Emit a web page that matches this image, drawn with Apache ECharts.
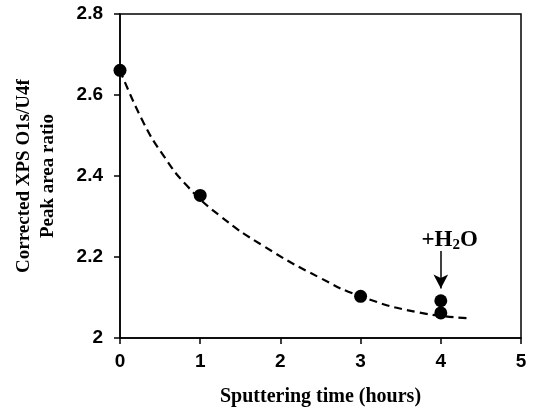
<!DOCTYPE html>
<html>
<head>
<meta charset="utf-8">
<script src="https://cdn.jsdelivr.net/npm/echarts@6/dist/echarts.min.js"></script>
<style>html,body{margin:0;padding:0;background:#fff}#c{width:536px;height:412px}</style>
</head>
<body>
<div id="c"></div>
<script>
// Measured points
const pointX = [0, 1, 3, 4, 4];
const pointY = [2.661, 2.352, 2.103, 2.092, 2.062];
// Dashed fit curve
const curveX = [0, 0.29, 0.54, 0.83, 1.25, 1.79, 2.49, 3.0, 3.70, 4.34];
const curveY = [2.661, 2.533, 2.451, 2.377, 2.301, 2.227, 2.149, 2.103, 2.064, 2.049];
// Annotation
const noteX = 4;
const arrowFromY = 2.215;
const arrowToY = 2.122;
const noteTextY = 2.243;
const xTicks = [0, 1, 2, 3, 4, 5];
const yTicks = ['2', '2.2', '2.4', '2.6', '2.8'];

const chart = echarts.init(document.getElementById('c'));
const lblFont = {fontFamily: 'Liberation Sans', fontWeight: 'bold', fontSize: 19, color: '#000'};
const titleFont = {fontFamily: 'Liberation Serif', fontWeight: 'bold', fontSize: 20, color: '#000'};
chart.setOption({
  animation: false,
  grid: {left: 120, right: 15, top: 14, bottom: 71, show: true, borderColor: '#000', borderWidth: 1.5},
  xAxis: {
    type: 'value', min: 0, max: 5, interval: 1,
    axisLine: {lineStyle: {color: '#000', width: 1.5}},
    axisTick: {show: true, length: 6, lineStyle: {color: '#000', width: 1.5}},
    splitLine: {show: false},
    axisLabel: Object.assign({margin: 14, formatter: v => String(xTicks[Math.round(v)])}, lblFont),
    name: 'Sputtering time (hours)', nameLocation: 'middle', nameGap: 49,
    nameTextStyle: titleFont
  },
  yAxis: {
    type: 'value', min: 2, max: 2.8, interval: 0.2,
    axisLine: {show: true, lineStyle: {color: '#000', width: 1.5}},
    axisTick: {show: true, length: 6, lineStyle: {color: '#000', width: 1.5}},
    splitLine: {show: false},
    axisLabel: Object.assign({margin: 17, formatter: v => yTicks[Math.round((v - 2) / 0.2)]}, lblFont),
    name: 'Corrected XPS O1s/U4f\nPeak area ratio', nameLocation: 'middle', nameGap: 60,
    nameTextStyle: Object.assign({}, titleFont, {fontSize: 19, lineHeight: 24})
  },
  series: [
    {
      type: 'line', smooth: true, symbol: 'none',
      data: curveX.map((x, i) => [x, curveY[i]]),
      lineStyle: {color: '#000', width: 2.2, type: [8, 5]},
      z: 2
    },
    {
      type: 'scatter', symbol: 'circle', symbolSize: 13,
      data: pointX.map((x, i) => [x, pointY[i]]),
      itemStyle: {color: '#000', opacity: 1},
      z: 3,
      markLine: {
        silent: true, symbol: ['none', 'arrow'], symbolSize: [11, 14],
        lineStyle: {color: '#000', width: 1.5, type: 'solid'},
        label: {show: false},
        data: [[{coord: [noteX, arrowFromY]}, {coord: [noteX, arrowToY]}]]
      },
      markPoint: {
        symbol: 'circle', symbolSize: 1, itemStyle: {color: 'rgba(0,0,0,0)'},
        label: {
          show: true, position: 'inside', formatter: '{a|+H}{b|2}{a|O}',
          rich: {
            a: {fontFamily: 'Liberation Serif', fontWeight: 'bold', fontSize: 23, color: '#000'},
            b: {fontFamily: 'Liberation Serif', fontWeight: 'bold', fontSize: 15, color: '#000', padding: [11, 0, 0, 0]}
          }
        },
        data: [{coord: [noteX + 0.11, noteTextY]}]
      }
    }
  ]
});
</script>
</body>
</html>
